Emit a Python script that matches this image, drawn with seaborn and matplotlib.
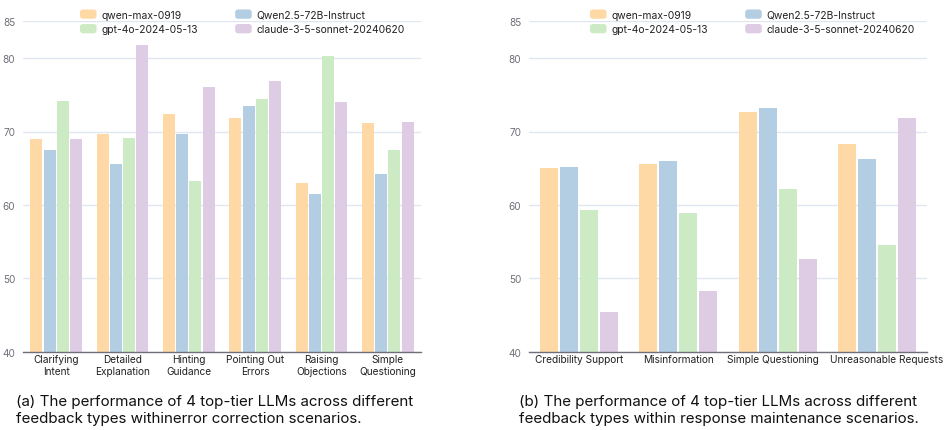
import numpy as np
import pandas as pd
import seaborn as sns
import matplotlib.pyplot as plt
import matplotlib.transforms as mtransforms
from matplotlib.patches import FancyBboxPatch, Patch
from matplotlib.legend_handler import HandlerPatch

# Models and their colours
models = ["qwen-max-0919", "Qwen2.5-72B-Instruct", "gpt-4o-2024-05-13", "claude-3-5-sonnet-20240620"]
colors = ["#fed9a6", "#b3cde3", "#ccebc5", "#decbe4"]

# (a) error correction scenarios
ec_types = ["Clarifying\nIntent", "Detailed\nExplanation", "Hinting\nGuidance",
            "Pointing Out\nErrors", "Raising\nObjections", "Simple\nQuestioning"]
ec_qwen_max = [69.0, 69.6, 72.4, 71.8, 63.0, 71.2]
ec_qwen25 = [67.5, 65.6, 69.6, 73.5, 61.5, 64.2]
ec_gpt4o = [74.2, 69.1, 63.2, 74.4, 80.3, 67.5]
ec_claude = [69.0, 81.8, 76.0, 76.9, 74.0, 71.3]

# (b) response maintenance scenarios
rm_types = ["Credibility Support", "Misinformation", "Simple Questioning", "Unreasonable Requests"]
rm_qwen_max = [65.0, 65.6, 72.6, 68.3]
rm_qwen25 = [65.2, 66.0, 73.2, 66.2]
rm_gpt4o = [59.3, 58.9, 62.2, 54.5]
rm_claude = [45.4, 48.3, 52.6, 71.8]

y_ticks = [40, 50, 60, 70, 80, 85]

captions = [
    "(a) The performance of 4 top-tier LLMs across different\nfeedback types withinerror correction scenarios.",
    "(b) The performance of 4 top-tier LLMs across different\nfeedback types within response maintenance scenarios.",
]

sns.set_style("white")
plt.rcParams["font.family"] = ["Inter", "DejaVu Sans"]

AXIS_C = "#6E7079"
GRID_C = "#E0E6F1"
TEXT_C = "#222222"


def to_long(types, series):
    rows = []
    for m, vals in zip(models, series):
        for t, v in zip(types, vals):
            rows.append({"type": t, "model": m, "score": v})
    return pd.DataFrame(rows)


class RoundHandler(HandlerPatch):
    def create_artists(self, legend, orig_handle, xdescent, ydescent,
                       width, height, fontsize, trans):
        p = FancyBboxPatch((-xdescent, -ydescent), width, height,
                           boxstyle=f"round,pad=0,rounding_size={height * 0.3:.2f}",
                           facecolor=orig_handle.get_facecolor(),
                           edgecolor="none", transform=trans)
        return [p]


W, H = 945, 431
fig = plt.figure(figsize=(W / 100, H / 100), dpi=100)

panels = [
    (ec_types, [ec_qwen_max, ec_qwen25, ec_gpt4o, ec_claude], 23, 398),
    (rm_types, [rm_qwen_max, rm_qwen25, rm_gpt4o, rm_claude], 529, 398),
]
ax_bottom_px, ax_top_px = 352.7, 22.4
cap_x = [16, 519]
# horizontal nudges (px) for crowded category labels in panel (b)
label_nudge = [None, [0, 0, -5, 9]]

# legend reads row-wise: qwen-max / Qwen2.5 on top, gpt-4o / claude below
legend_order = [0, 2, 1, 3]

for i, (types, series, left_px, width_px) in enumerate(panels):
    ax = fig.add_axes([left_px / W, (H - ax_bottom_px) / H,
                       width_px / W, (ax_bottom_px - ax_top_px) / H])
    df = to_long(types, series)
    sns.barplot(data=df, x="type", y="score", hue="model", hue_order=models,
                palette=colors, order=types, width=0.8, gap=0.1,
                ax=ax, legend=False, saturation=1, linewidth=0, zorder=3)
    ax.set_ylim(40, 85)
    ax.set_xlim(-0.5, len(types) - 0.5)
    ax.set_yticks(y_ticks)
    ax.set_xlabel("")
    ax.set_ylabel("")
    for s in ["top", "right", "left"]:
        ax.spines[s].set_visible(False)
    ax.spines["bottom"].set_color(AXIS_C)
    ax.spines["bottom"].set_linewidth(1.0)
    ax.spines["bottom"].set_zorder(4)
    ax.grid(axis="y", color=GRID_C, linewidth=1.0, zorder=0)
    ax.set_axisbelow(True)
    ax.tick_params(axis="y", length=2.5, width=0.8, color=AXIS_C, pad=3,
                   labelsize=7.2, labelcolor=AXIS_C)
    ax.tick_params(axis="x", which="major", length=0, pad=2,
                   labelsize=7.3, labelcolor=TEXT_C)
    ax.set_xticks(np.arange(-0.5, len(types)), minor=True)
    ax.tick_params(axis="x", which="minor", length=3.5, width=0.8, color=AXIS_C)
    for k, lab in enumerate(ax.get_xticklabels()):
        lab.set_linespacing(1.15)
        if label_nudge[i] is not None and label_nudge[i][k]:
            off = mtransforms.ScaledTranslation(label_nudge[i][k] / 100, 0,
                                                fig.dpi_scale_trans)
            lab.set_transform(lab.get_transform() + off)

    handles = [Patch(facecolor=colors[k], label=models[k]) for k in legend_order]
    leg_x = [80, 590][i]
    fig.legend(handles=handles, ncol=2, loc="upper left",
               bbox_to_anchor=(leg_x / W, 1 - 10.5 / H),
               frameon=False, fontsize=7.45, labelcolor=TEXT_C,
               handler_map={Patch: RoundHandler()},
               handlelength=1.6, handleheight=1.0, handletextpad=0.47,
               columnspacing=3.6, labelspacing=0.42,
               borderpad=0, borderaxespad=0)

    fig.text(cap_x[i] / W, 1 - 395 / H, captions[i], ha="left", va="top",
             fontsize=10.9, color="#111111", linespacing=1.3)

fig.savefig("out.png", dpi=100)
